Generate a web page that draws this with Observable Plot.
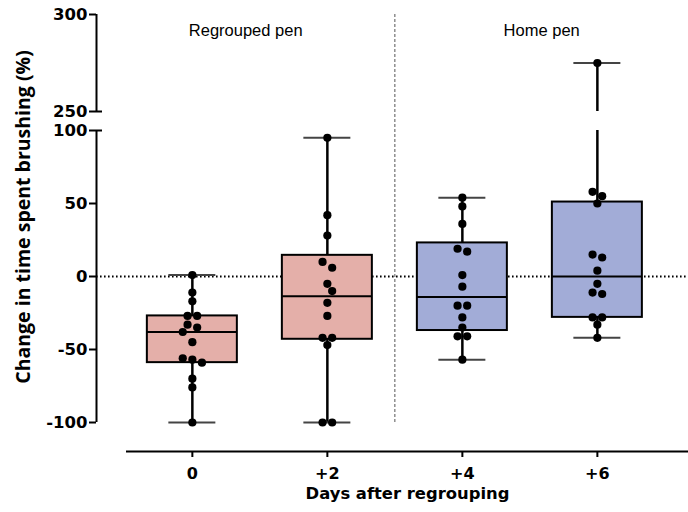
<!DOCTYPE html>
<html><head><meta charset="utf-8">
<script src="https://cdn.jsdelivr.net/npm/d3@7"></script>
<script src="https://cdn.jsdelivr.net/npm/@observablehq/plot@0.6"></script>
<style>body{margin:0;background:#fff}#chart svg{display:block}</style>
</head><body><div id="chart"></div>
<script>
// ---- data ----
const categories = ["0", "+2", "+4", "+6"];
const days = [0, 2, 4, 6];
const pens = ["Regrouped pen", "Regrouped pen", "Home pen", "Home pen"];
const penLabels = ["Regrouped pen", "Home pen"];
const values0 = [1, -11, -17, -27, -27, -33, -35, -38, -45, -56, -57, -59, -70, -76, -100];
const values2 = [95, 42, 28, 10, 6, -5, -10, -18, -27, -42, -42, -47, -100, -100];
const values4 = [54, 48, 36, 19, 17, 1, -7, -20, -20, -28, -35, -41, -41, -57];
const values6 = [275, 58, 55, 50, 15, 13, 4, -5, -11, -12, -28, -28, -33, -42];
const boxMin = [-100, -100, -57, -42];
const boxQ1 = [-59, -43, -37, -28];
const boxMedian = [-38, -13.5, -14, 0];
const boxQ3 = [-27, 14.5, 23, 51];
const boxMax = [1, 95, 54, 275];
const yTicksLower = [-100, -50, 0, 50, 100];
const yTicksUpper = [250, 300];
const yTitle = "Change in time spent brushing (%)";
const xTitle = "Days after regrouping";

// ---- layout / styling ----
const W = 688, H = 512, mL = 96, mT = 14;
const lowPx = 1.46, upPx = 1.94, gapPx = 19, axisGapPx = 29;
const lowerTop = yTicksLower[yTicksLower.length - 1], upperBottom = yTicksUpper[0], upperTop = yTicksUpper[1];
const brk = v => v <= lowerTop ? v : lowerTop + gapPx / lowPx + (v - upperBottom) * upPx / lowPx;
const yDomain = [yTicksLower[0] - axisGapPx / lowPx, brk(upperTop)];
const frameH = (yDomain[1] - yDomain[0]) * lowPx;
const mB = H - mT - frameH;
const xDomain = [-1.42, 7.35];
const xPx = (W - mL) / (xDomain[1] - xDomain[0]);
const boxHalf = 45 / xPx, capHalf = 23.5 / xPx;
const sepX = (days[1] + days[2]) / 2;
const xLineStart = xDomain[0] + 30 / xPx;
const fills = {"Regrouped pen": "#e4afa9", "Home pen": "#a2acd7"};

const groups = [values0, values2, values4, values6];

// beeswarm-like horizontal spreading (computed in pixels)
function spread(vals) {
  const step = 4.8, minD = 8.5, rowTol = 6;
  const pts = vals.map(v => ({v, py: brk(v) * lowPx})).sort((a, b) => b.py - a.py);
  const rows = [];
  for (const p of pts) {
    const r = rows[rows.length - 1];
    if (r && Math.abs(r[0].py - p.py) < rowTol) r.push(p); else rows.push([p]);
  }
  const placed = [];
  for (const r of rows) {
    const base = r.map((p, j) => (j - (r.length - 1) / 2) * 2 * step);
    for (const s of [0, step, -step, 2 * step, -2 * step, 3 * step, -3 * step]) {
      const ok = r.every((p, j) => placed.every(q => Math.hypot(q.dx - (base[j] + s), q.py - p.py) >= minD));
      if (ok) { r.forEach((p, j) => { p.dx = base[j] + s; placed.push(p); }); break; }
    }
    if (r[0].dx === undefined) r.forEach((p, j) => { p.dx = base[j]; placed.push(p); });
  }
  return pts;
}

const dots = [];
groups.forEach((vals, i) => spread(vals).forEach(p => dots.push({day: days[i], off: p.dx / xPx, v: p.v})));

const boxes = days.map((d, i) => ({day: d, pen: pens[i], min: boxMin[i], q1: boxQ1[i], med: boxMedian[i], q3: boxQ3[i], max: boxMax[i]}));

// whisker segments, split at the axis break
const whiskers = [];
function addSeg(day, a, b) {
  if (a <= lowerTop && b > lowerTop) {
    whiskers.push({day, y1: brk(a), y2: brk(lowerTop)});
    whiskers.push({day, y1: brk(upperBottom), y2: brk(b)});
  } else whiskers.push({day, y1: brk(a), y2: brk(b)});
}
boxes.forEach(b => { addSeg(b.day, b.min, b.q1); addSeg(b.day, b.q3, b.max); });

const penPos = [(xDomain[0] + sepX) / 2, (sepX + xDomain[1]) / 2];
const tickLabel = new Map([...yTicksLower, ...yTicksUpper].map(t => [brk(t), String(t)]));

const plot = Plot.plot({
  width: W, height: H,
  marginLeft: mL, marginRight: 0, marginTop: mT, marginBottom: mB,
  x: {type: "linear", domain: xDomain},
  y: {type: "linear", domain: yDomain},
  style: {background: "#fff", color: "#000"},
  marks: [
    Plot.ruleY([0], {stroke: "#000", strokeWidth: 1.8, strokeDasharray: "1.6,2.4"}),
    Plot.ruleX([sepX], {y1: yTicksLower[0], y2: brk(upperTop), stroke: "#555", strokeWidth: 1, strokeDasharray: "3,2"}),
    Plot.ruleX(whiskers, {x: "day", y1: "y1", y2: "y2", stroke: "#000", strokeWidth: 2.5}),
    Plot.ruleY(boxes, {y: d => brk(d.min), x1: d => d.day - capHalf, x2: d => d.day + capHalf, stroke: "#444", strokeWidth: 2}),
    Plot.ruleY(boxes, {y: d => brk(d.max), x1: d => d.day - capHalf, x2: d => d.day + capHalf, stroke: "#444", strokeWidth: 2}),
    Plot.rect(boxes, {x1: d => d.day - boxHalf, x2: d => d.day + boxHalf, y1: d => brk(d.q1), y2: d => brk(d.q3), fill: d => fills[d.pen], stroke: "#000", strokeWidth: 2}),
    Plot.ruleY(boxes, {y: d => brk(d.med), x1: d => d.day - boxHalf, x2: d => d.day + boxHalf, stroke: "#000", strokeWidth: 2}),
    Plot.dot(dots, {x: d => d.day + d.off, y: d => brk(d.v), r: 4.1, fill: "#000", stroke: "none"}),
    // y axis (broken)
    Plot.ruleX([{y1: yTicksLower[0], y2: lowerTop}, {y1: brk(upperBottom), y2: brk(upperTop)}], {x: xDomain[0], y1: "y1", y2: "y2", stroke: "#000", strokeWidth: 2}),
    Plot.ruleY([lowerTop, upperBottom].map(brk), {x1: xDomain[0], x2: xDomain[0] + 6 / xPx, stroke: "#000", strokeWidth: 2}),
    Plot.axisY({ticks: [...yTicksLower, ...yTicksUpper].map(brk), tickFormat: t => tickLabel.get(t), tickSize: 7, tickPadding: 2, strokeWidth: 2, label: null,
      fontSize: 16.5, fontFamily: "DejaVu Sans", fontWeight: "bold"}),
    // x axis
    Plot.ruleY([yDomain[0]], {x1: xLineStart, x2: xDomain[1], stroke: "#000", strokeWidth: 2.2}),
    Plot.axisX({ticks: days, tickFormat: d => categories[days.indexOf(d)], tickSize: 6, tickPadding: 10, strokeWidth: 2, label: null,
      fontSize: 16, fontFamily: "DejaVu Sans", fontWeight: "bold"}),
    Plot.text([xTitle], {frameAnchor: "bottom", lineAnchor: "middle", dx: 15, dy: 42, fontSize: 16.4, fontFamily: "DejaVu Sans", fontWeight: "bold", fill: "#000"}),
    Plot.text([yTitle], {frameAnchor: "left", textAnchor: "middle", lineAnchor: "middle", rotate: -90, dx: -73, dy: -16, fontSize: 19.5, fontFamily: "Open Sans", fontWeight: "bold", fill: "#000"}),
    Plot.text(penLabels, {x: (d, i) => penPos[i], frameAnchor: "top", lineAnchor: "middle", dy: 16, fontSize: 16.5, fontFamily: "Liberation Sans", fill: "#000"})
  ]
});
document.getElementById("chart").appendChild(plot);
</script>
</body></html>
